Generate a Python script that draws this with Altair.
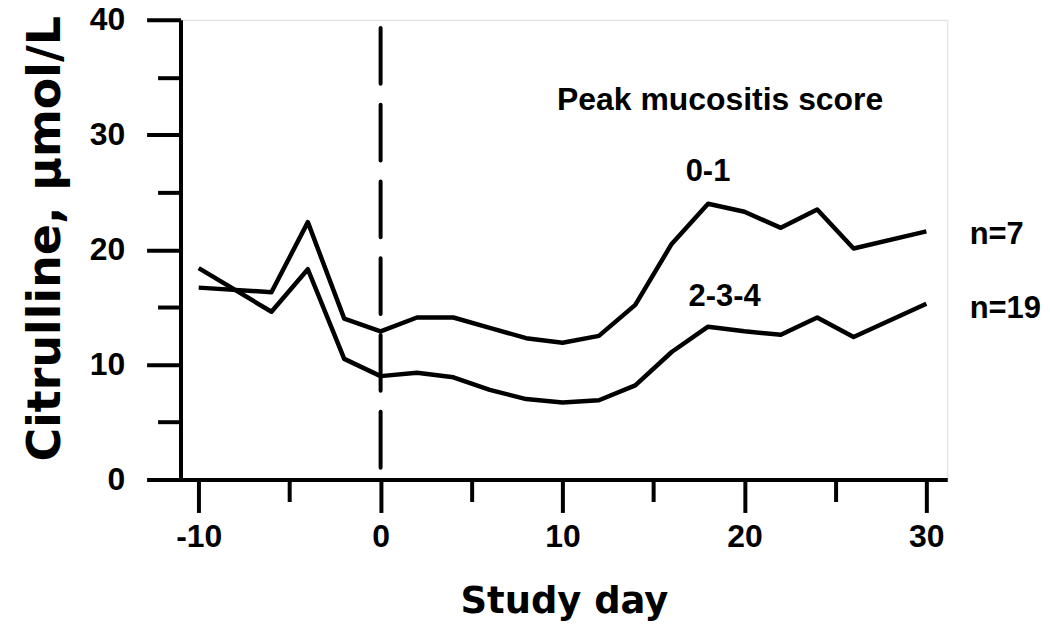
import altair as alt
import pandas as pd

# ---- data ----
days = [-10, -6, -4, -2, 0, 2, 4, 6, 8, 10, 12, 14, 16, 18, 20, 22, 24, 26, 30]
score_01 = [16.7, 16.3, 22.4, 14.0, 12.9, 14.1, 14.1, 13.2, 12.3, 11.9, 12.5, 15.2, 20.5, 24.0, 23.3, 21.9, 23.5, 20.1, 21.6]
score_234 = [18.4, 14.6, 18.3, 10.5, 9.0, 9.3, 8.9, 7.8, 7.0, 6.7, 6.9, 8.2, 11.1, 13.3, 12.9, 12.6, 14.1, 12.4, 15.3]

x_major = [-10, 0, 10, 20, 30]
x_minor = [-5, 5, 15, 25]
y_major = [0, 10, 20, 30, 40]
y_minor = [5, 15, 25, 35]

label_text = ["Peak mucositis score", "0-1", "2-3-4", "n=7", "n=19"]
label_x = [9.70, 16.77, 16.93, 32.38, 32.38]
label_y = [33.0, 26.8, 15.9, 21.3, 14.8]
label_size = [32, 31, 31, 31, 31]

FONT = "Liberation Sans"
TITLE_FONT = "DejaVu Sans"

df = pd.DataFrame({
    "day": days + days,
    "value": score_01 + score_234,
    "group": ["0-1"] * len(days) + ["2-3-4"] * len(days),
})
df_labels = pd.DataFrame({"x": label_x, "y": label_y, "t": label_text, "s": label_size})
df_day0 = pd.DataFrame({"x": [0], "y": [39.3], "y2": [0]})

xs = alt.Scale(domain=[-11, 31.15], nice=False, zero=False)
ys = alt.Scale(domain=[0, 40], nice=False, zero=False)

common_axis = dict(
    domainColor="black", domainWidth=4, tickColor="black", tickWidth=4,
    labelFont=FONT, labelFontWeight="bold", labelColor="black",
    titleFont=TITLE_FONT, titleFontWeight="bold", titleColor="black", grid=False,
    labelExpr="'' + datum.value",
)

x_axis_major = alt.Axis(
    orient="bottom", values=x_major, tickSize=33, labelFontSize=32,
    labelPadding=9, title="Study day", titleFontSize=37, titlePadding=31,
    **common_axis)
y_axis_major = alt.Axis(
    orient="left", values=y_major, tickSize=34, labelFontSize=32,
    labelPadding=22, title="Citrulline, μmol/L", titleFontSize=46,
    titlePadding=20, titleY=219, **common_axis)

x_axis_minor = alt.Axis(
    orient="bottom", values=x_minor, tickSize=22, labels=False, domain=False,
    title=None, tickColor="black", tickWidth=4, grid=False)
y_axis_minor = alt.Axis(
    orient="left", values=y_minor, tickSize=23, labels=False, domain=False,
    title=None, tickColor="black", tickWidth=4, grid=False)

lines = alt.Chart(df).mark_line(color="black", strokeWidth=4.5, strokeJoin="round").encode(
    x=alt.X("day:Q", scale=xs, axis=x_axis_major),
    y=alt.Y("value:Q", scale=ys, axis=y_axis_major),
    detail="group:N",
)

minor = alt.Chart(df).mark_line(opacity=0).encode(
    x=alt.X("day:Q", scale=xs, axis=x_axis_minor),
    y=alt.Y("value:Q", scale=ys, axis=y_axis_minor),
    detail="group:N",
)

day0 = alt.Chart(df_day0).mark_rule(
    color="black", strokeWidth=4, strokeDash=[56, 21], strokeCap="round"
).encode(
    x=alt.X("x:Q", scale=xs, axis=None),
    y=alt.Y("y:Q", scale=ys, axis=None),
    y2="y2:Q",
)

txt = alt.Chart(df_labels).mark_text(
    font=FONT, fontWeight="bold", color="black", align="left", baseline="middle"
).encode(
    x=alt.X("x:Q", scale=xs, axis=None),
    y=alt.Y("y:Q", scale=ys, axis=None),
    text="t:N",
    size=alt.Size("s:Q", scale=None, legend=None),
)

chart = alt.layer(lines, minor, day0, txt).resolve_axis(
    x="independent", y="independent"
).properties(
    width=769, height=461,
    autosize=alt.AutoSizeParams(type="none"),
    padding={"left": 173, "top": 11, "right": 95, "bottom": 150},
).configure_view(
    stroke="black", strokeWidth=4,
).configure(background="white")

chart.save("out.html", embed_options={"renderer": "svg", "actions": False})
